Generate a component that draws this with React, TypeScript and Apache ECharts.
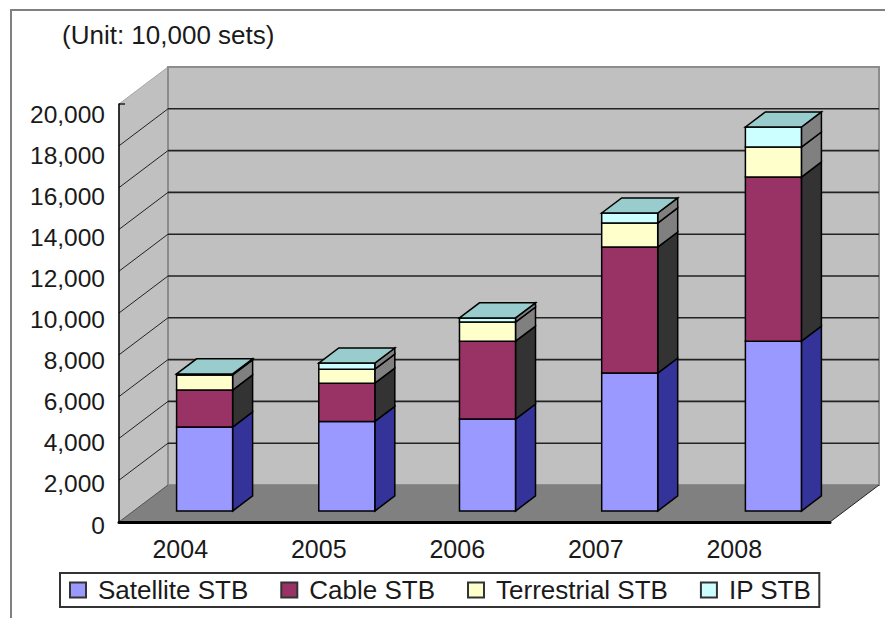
import React, { useEffect, useRef } from "react";
import * as echarts from "echarts";

const categories = ["2004", "2005", "2006", "2007", "2008"];
const satellite = [4020, 4290, 4400, 6600, 8130];
const cable = [1770, 1830, 3730, 6030, 7850];
const terrestrial = [720, 670, 910, 1150, 1435];
const ip = [50, 290, 200, 480, 960];
const seriesNames = ["Satellite STB", "Cable STB", "Terrestrial STB", "IP STB"];
const seriesValues = [satellite, cable, terrestrial, ip];
const frontColors = ["#9999FF", "#993366", "#FFFFCC", "#CCFFFF"];
const sideColors = ["#333399", "#333333", "#808080", "#808080"];
const yTicks = [0, 2000, 4000, 6000, 8000, 10000, 12000, 14000, 16000, 18000, 20000];

const FONT = "'Liberation Sans', Arial, sans-serif";
const TEXT_COLOR = "#1A1A1A";
const WALL_DX = 49;
const WALL_DY = 37;
const BAR_FRONT = 0.296;
const BAR_BACK = 0.704;
const BAR_WIDTH = 0.394;

function wallsRenderItem(params: any, api: any) {
  const v = api.value(0);
  const [x0, y] = api.coord([0, v]);
  const xLeft = x0 - api.size([1, 0])[0] / 2;
  const xRight = xLeft + api.size([1, 0])[0] * categories.length;
  const children: any[] = [];
  if (params.dataIndex === 0) {
    const top = api.coord([0, yTicks[yTicks.length - 1]])[1];
    children.push({
      type: "polygon",
      shape: { points: [[xLeft, y], [xLeft + WALL_DX, y - WALL_DY], [xLeft + WALL_DX, top - WALL_DY], [xLeft, top]] },
      style: { fill: "#C0C0C0", stroke: "#A6A6A6", lineWidth: 1 },
    });
    children.push({
      type: "rect",
      shape: { x: xLeft + WALL_DX, y: top - WALL_DY, width: xRight - xLeft, height: y - top },
      style: { fill: "#C0C0C0", stroke: "#8C8C8C", lineWidth: 2 },
    });
    children.push({
      type: "polygon",
      shape: { points: [[xLeft, y], [xLeft + WALL_DX, y - WALL_DY], [xRight + WALL_DX, y - WALL_DY], [xRight, y]] },
      style: { fill: "#808080" },
    });
    children.push({
      type: "line",
      shape: { x1: xRight, y1: y, x2: xRight + WALL_DX, y2: y - WALL_DY },
      style: { stroke: "#222222", lineWidth: 1 },
    });
  }
  if (v > 0 && v < yTicks[yTicks.length - 1]) {
    children.push({
      type: "line",
      shape: { x1: xLeft + WALL_DX, y1: y - WALL_DY, x2: xRight + WALL_DX, y2: y - WALL_DY },
      style: { stroke: "#222222", lineWidth: 1.6 },
    });
  }
  if (v < yTicks[yTicks.length - 1]) {
    children.push({
      type: "line",
      shape: { x1: xLeft, y1: y, x2: xLeft + WALL_DX, y2: y - WALL_DY },
      style: { stroke: v === 0 ? "#555555" : "#222222", lineWidth: 1 },
    });
  } else {
    children.push({
      type: "line",
      shape: { x1: xLeft, y1: y, x2: xLeft + 6, y2: y },
      style: { stroke: "#222222", lineWidth: 1.5 },
    });
  }
  return { type: "group", children };
}

function barRenderItem(seriesIndex: number) {
  return (_params: any, api: any) => {
    const cat = api.value(0);
    const [cx, yBase] = api.coord([cat, api.value(1)]);
    const yEnd = api.coord([cat, api.value(2)])[1];
    const w = api.size([1, 0])[0] * BAR_WIDTH;
    const fx = WALL_DX * BAR_FRONT;
    const fy = WALL_DY * BAR_FRONT;
    const bx = WALL_DX * (BAR_BACK - BAR_FRONT);
    const by = WALL_DY * (BAR_BACK - BAR_FRONT);
    const xl = cx + fx - w / 2 - (cat >= 2 && cat < 4 ? 1.5 : 0);
    const xr = xl + w;
    const yb = yBase - fy;
    const yt = yEnd - fy;
    const border = { stroke: "#000000", lineWidth: 1.5, lineJoin: "miter" };
    const children: any[] = [
      {
        type: "polygon",
        shape: { points: [[xr, yb], [xr + bx, yb - by], [xr + bx, yt - by], [xr, yt]] },
        style: { fill: sideColors[seriesIndex], ...border },
      },
      {
        type: "rect",
        shape: { x: xl, y: yt, width: w, height: yb - yt },
        style: { fill: frontColors[seriesIndex], ...border },
      },
    ];
    if (seriesIndex === seriesValues.length - 1) {
      children.push({
        type: "polygon",
        shape: { points: [[xl, yt], [xl + bx, yt - by], [xr + bx, yt - by], [xr, yt]] },
        style: { fill: "#99CCCC", ...border },
      });
    }
    return { type: "group", children };
  };
}

function stacked(idx: number) {
  return categories.map((_, i) => {
    let base = 0;
    for (let s = 0; s < idx; s++) base += seriesValues[s][i];
    return [i, base, base + seriesValues[idx][i]];
  });
}

export default function App() {
  const ref = useRef<HTMLDivElement>(null);
  useEffect(() => {
    const chart = echarts.init(ref.current!, undefined, { renderer: "svg" });
    chart.setOption({
      animation: false,
      backgroundColor: "#FFFFFF",
      title: {
        text: "(Unit: 10,000 sets)",
        left: 62,
        top: 22,
        padding: 0,
        textStyle: { fontFamily: FONT, fontSize: 26, fontWeight: "normal", color: TEXT_COLOR },
      },
      graphic: [
        {
          type: "polyline",
          silent: true,
          shape: { points: [[11, 618], [11, 10], [885, 10]] },
          style: { stroke: "#808080", lineWidth: 2, fill: "none" },
        },
      ],
      legend: {
        left: 60,
        top: 573,
        padding: [4, 8, 4, 9],
        itemGap: 32,
        itemWidth: 16,
        itemHeight: 15,
        backgroundColor: "#FFFFFF",
        borderColor: "#333333",
        borderWidth: 2,
        borderRadius: 0,
        data: seriesNames.map((name, i) => ({
          name,
          icon: "rect",
          itemStyle: { color: frontColors[i], borderColor: "#333333", borderWidth: 2 },
        })),
        textStyle: { fontFamily: FONT, fontSize: 26, color: TEXT_COLOR, padding: [0, 0, 0, 7] },
      },
      grid: [
        { left: 119, top: 104, width: 711, height: 418 },
        { left: 111, top: 114, width: 692.5, height: 411 },
      ],
      xAxis: [
        {
          type: "category",
          gridIndex: 0,
          data: categories,
          z: 10,
          axisLine: { lineStyle: { color: "#000000", width: 3 } },
          axisTick: { inside: true, length: 6, lineStyle: { color: "#000000", width: 1 } },
          axisLabel: { show: false },
        },
        {
          type: "category",
          gridIndex: 1,
          data: categories,
          axisLine: { show: false },
          axisTick: { show: false },
          axisLabel: { margin: 11, fontFamily: FONT, fontSize: 25, color: TEXT_COLOR },
        },
      ],
      yAxis: [
        {
          type: "value",
          gridIndex: 0,
          min: 0,
          max: 20000,
          interval: 2000,
          z: 10,
          splitLine: { show: false },
          axisLine: { show: true, lineStyle: { color: "#000000", width: 1.5 } },
          axisTick: { show: false },
          axisLabel: { show: false },
        },
        {
          type: "value",
          gridIndex: 1,
          min: 0,
          max: 20000,
          interval: 2000,
          splitLine: { show: false },
          axisLine: { show: false },
          axisTick: { show: false },
          offset: -8,
          axisLabel: {
            margin: 14,
            fontFamily: FONT,
            fontSize: 24.5,
            color: TEXT_COLOR,
            formatter: (v: number) => v.toLocaleString("en-US"),
          },
        },
      ],
      series: [
        {
          type: "custom",
          name: "walls",
          silent: true,
          z: 1,
          xAxisIndex: 0,
          yAxisIndex: 0,
          data: yTicks.map((t) => [t]),
          encode: { y: 0 },
          renderItem: wallsRenderItem,
        },
        ...seriesNames.map((name, i) => ({
          type: "custom",
          name,
          z: 4,
          xAxisIndex: 0,
          yAxisIndex: 0,
          itemStyle: { color: frontColors[i] },
          data: stacked(i),
          encode: { x: 0, y: [1, 2] },
          renderItem: barRenderItem(i),
        })),
        {
          type: "custom",
          name: "labels",
          silent: true,
          xAxisIndex: 1,
          yAxisIndex: 1,
          data: [],
          renderItem: () => null,
        },
      ],
    });
    return () => chart.dispose();
  }, []);
  return (
    <div
      ref={ref}
      style={{ position: "absolute", left: 0, top: 0, width: 885, height: 618 }}
    />
  );
}
